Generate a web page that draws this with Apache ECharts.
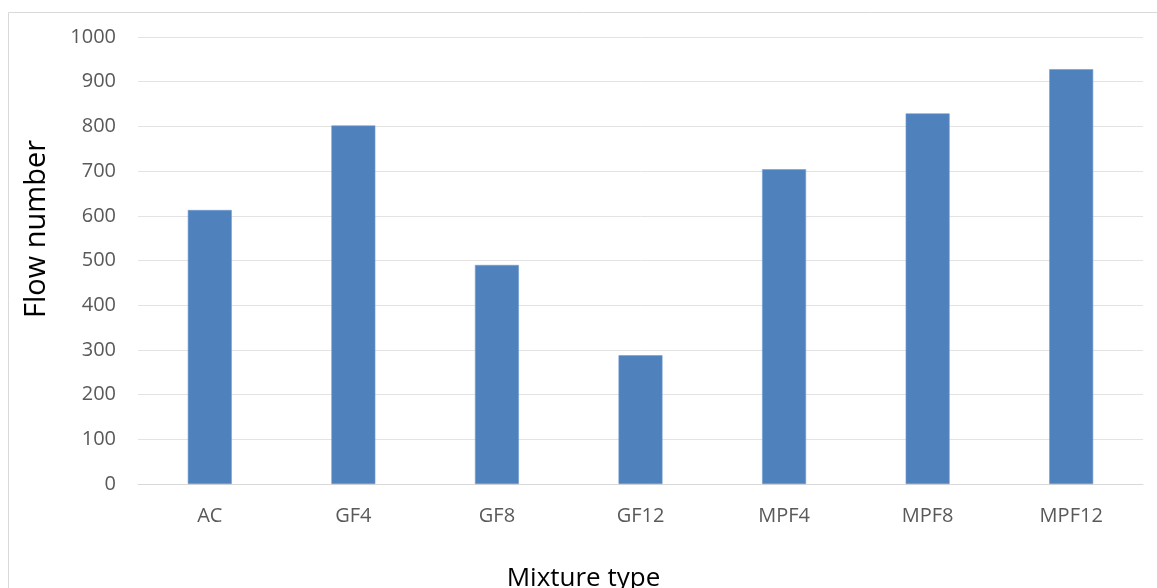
<!DOCTYPE html>
<html>
<head>
<meta charset="utf-8">
<script src="https://cdn.jsdelivr.net/npm/echarts@6/dist/echarts.min.js"></script>
<style>
  html, body { margin: 0; padding: 0; background: #fff; }
  #chart { width: 1157px; height: 588px; }
</style>
</head>
<body>
<div id="chart"></div>
<script>
// Flow number per mixture type
const categories = ['AC', 'GF4', 'GF8', 'GF12', 'MPF4', 'MPF8', 'MPF12'];
const flowNumber = [613, 802, 490, 288, 704, 829, 928];
const yTicks = { min: 0, max: 1000, interval: 100 };
const xTitle = 'Mixture type';
const yTitle = 'Flow number';

const chart = echarts.init(document.getElementById('chart'), null, { renderer: 'canvas' });
const font = '"Open Sans", "Liberation Sans", sans-serif';

chart.setOption({
  animation: false,
  backgroundColor: '#ffffff',
  graphic: [
    {
      // outer chart frame
      type: 'rect',
      shape: { x: 8.5, y: 12.5, width: 1200, height: 640 },
      style: { fill: 'none', stroke: '#d9d9d9', lineWidth: 1 },
      silent: true,
      z: -1
    },
    {
      type: 'text',
      x: 36.6,
      y: 229,
      rotation: Math.PI / 2,
      style: {
        text: yTitle,
        font: '29px ' + font,
        fill: '#000',
        align: 'center',
        verticalAlign: 'middle'
      },
      silent: true
    },
    {
      type: 'text',
      x: 583.5,
      y: 579,
      style: {
        text: xTitle,
        font: '26px ' + font,
        fill: '#000',
        align: 'center',
        verticalAlign: 'middle'
      },
      silent: true
    }
  ],
  grid: {
    left: 138, right: 14, top: 37, bottom: 104,
    containLabel: false,
    outerBoundsMode: 'none'
  },
  xAxis: {
    type: 'category',
    data: categories,
    axisLine: { lineStyle: { color: '#d9d9d9', width: 1 } },
    axisTick: { show: false },
    axisLabel: { fontFamily: font, fontSize: 20, color: '#595959', margin: 22 }
  },
  yAxis: {
    type: 'value',
    min: yTicks.min,
    max: yTicks.max,
    interval: yTicks.interval,
    axisLine: { show: false },
    axisTick: { show: false },
    axisLabel: {
      fontFamily: font, fontSize: 20, color: '#595959', margin: 22,
      formatter: (v) => String(v)
    },
    splitLine: { lineStyle: { color: '#e3e3e3', width: 1 } }
  },
  series: [{
    type: 'bar',
    data: flowNumber,
    barWidth: '30.6%',
    itemStyle: { color: '#4f81bd', borderColor: '#6f9ad0', borderWidth: 0.6 }
  }]
});
</script>
</body>
</html>
